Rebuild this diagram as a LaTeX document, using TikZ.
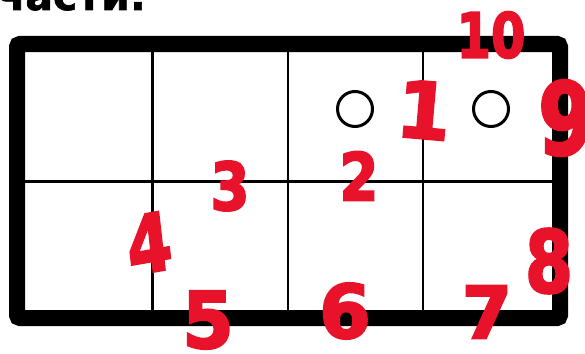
\documentclass[tikz,border=0pt]{standalone}
\usepackage{fontspec}
\newfontfamily\headfont[FakeBold=1.5]{DejaVu Sans Bold}
\newfontfamily\handfont[FakeBold=3]{DejaVu Sans Bold}
\definecolor{markred}{RGB}{232,18,42}
\begin{document}
\begin{tikzpicture}[x=1pt,y=-1pt,
  gridline/.style={line width=2.5pt,black},
  frame/.style={line width=16pt,black,rounded corners=3pt},
  hole/.style={circle,draw=black,line width=3pt,minimum size=35pt,inner sep=0pt},
  num/.style={text=markred,inner sep=0pt,font=\handfont\fontsize{#1}{#1}\selectfont},
]
\useasboundingbox (0,0) rectangle (585,353);
\clip (0,0) rectangle (585,353);
\node[anchor=base west,inner sep=0pt,font=\headfont\fontsize{41}{41}\selectfont] (title) at (-3,10) {части:};
% grid
\draw[gridline] (152.5,44) -- (152.5,318);
\draw[gridline] (288,44) -- (288,318);
\draw[gridline] (423,44) -- (423,318);
\draw[gridline] (17,181.5) -- (560,181.5);
\draw[frame] (17,44) rectangle (560,318);
% holes
\node[hole] (c1) at (355,109) {};
\node[hole] (c2) at (491,109) {};
% numbers
\node[num=78,rotate=-5] (n1) at (424,110) {1};
\node[num=66,xscale=0.85] (n2) at (359,176) {2};
\node[num=66,xscale=0.85] (n3) at (230,186) {3};
\node[num=80,xscale=0.8,rotate=8] (n4) at (149,243) {4};
\node[num=78,xscale=0.95] (n5) at (208,320) {5};
\node[num=74] (n6) at (345,311) {6};
\node[num=72] (n7) at (487,312) {7};
\node[num=86,xscale=0.8] (n8) at (549,261) {8};
\node[num=100,xscale=0.8] (n9) at (566,118) {9};
\node[num=62,xscale=0.8] (n10) at (491,35) {10};
\end{tikzpicture}
\end{document}
